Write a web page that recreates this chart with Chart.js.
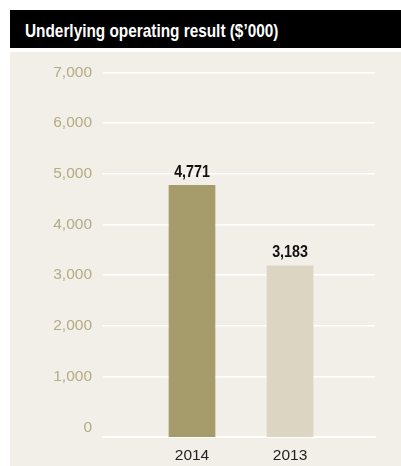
<!DOCTYPE html>
<html>
<head>
<meta charset="utf-8">
<script src="https://cdn.jsdelivr.net/npm/chart.js@4"></script>
<style>
  html, body { margin: 0; padding: 0; background: #ffffff; }
  body { width: 401px; height: 466px; position: relative; overflow: hidden; }
  #title {
    position: absolute; left: 10px; top: 10px; width: 391px; height: 38px;
    background: #000; overflow: hidden;
  }
  #title span {
    position: absolute; left: 15px; top: 0; display: block;
    color: #fff; font-family: "Liberation Sans", Arial, sans-serif;
    font-weight: bold; font-size: 18.5px; line-height: 41px; white-space: nowrap;
    transform: scaleX(0.83); transform-origin: left center;
  }
  #panel {
    position: absolute; left: 10px; top: 52px; width: 391px; height: 414px;
    background: #f2efe8;
  }
  canvas { display: block; }
</style>
</head>
<body>
<div id="title"><span>Underlying operating result ($’000)</span></div>
<div id="panel"><canvas id="c" width="391" height="414"></canvas></div>
<script>
const categories = ['2014', '2013'];
const values = [4771, 3183];
const barColors = ['#a59b6b', '#dbd5c2'];
const yTicks = [0, 1000, 2000, 3000, 4000, 5000, 6000, 7000];
const yMin = -190;
const yMax = 7000;

const FONT = '"Liberation Sans", Arial, sans-serif';

const fmt = v => v.toLocaleString('en-US');

const valueLabels = {
  id: 'valueLabels',
  afterDatasetsDraw(chart) {
    const ctx = chart.ctx;
    const meta = chart.getDatasetMeta(0);
    meta.data.forEach((bar, i) => {
      ctx.save();
      ctx.font = 'bold 17px ' + FONT;
      ctx.fillStyle = '#111';
      ctx.textAlign = 'center';
      ctx.textBaseline = 'bottom';
      ctx.translate(bar.x, bar.y - 5);
      ctx.scale(0.84, 1);
      ctx.fillText(fmt(values[i]), 0, 0);
      ctx.restore();
    });
  }
};

new Chart(document.getElementById('c'), {
  type: 'bar',
  data: {
    datasets: [{
      data: categories.map((c, i) => ({ x: i, y: values[i] })),
      backgroundColor: barColors,
      borderWidth: 0,
      barThickness: 46,
      base: yMin
    }]
  },
  options: {
    responsive: false,
    animation: false,
    devicePixelRatio: 1,
    layout: { padding: { top: 20, right: 26, left: 0, bottom: 0 } },
    plugins: { legend: { display: false }, tooltip: { enabled: false } },
    scales: {
      x: {
        type: 'linear',
        offset: false,
        min: -0.908,
        max: 1.867,
        afterBuildTicks: s => { s.ticks = categories.map((c, i) => ({ value: i })); },
        afterFit: s => { s.height = 29; },
        grid: { display: false, drawTicks: false },
        border: { display: true, color: '#ffffff', width: 2 },
        ticks: {
          padding: 9,
          color: '#222',
          font: { family: FONT, size: 15.5 },
          callback: v => categories[v]
        }
      },
      y: {
        type: 'linear',
        min: yMin,
        max: yMax,
        afterBuildTicks: s => { s.ticks = yTicks.map(v => ({ value: v })); },
        afterFit: s => { s.width = 93; },
        grid: {
          drawTicks: false,
          lineWidth: 1.5,
          color: c => (c.tick && c.tick.value === 0) ? 'rgba(0,0,0,0)' : '#ffffff'
        },
        border: { display: false },
        ticks: {
          padding: 11,
          color: '#b3ab82',
          font: { family: FONT, size: 15.5 },
          callback: v => fmt(v)
        }
      }
    }
  },
  plugins: [valueLabels]
});
</script>
</body>
</html>
